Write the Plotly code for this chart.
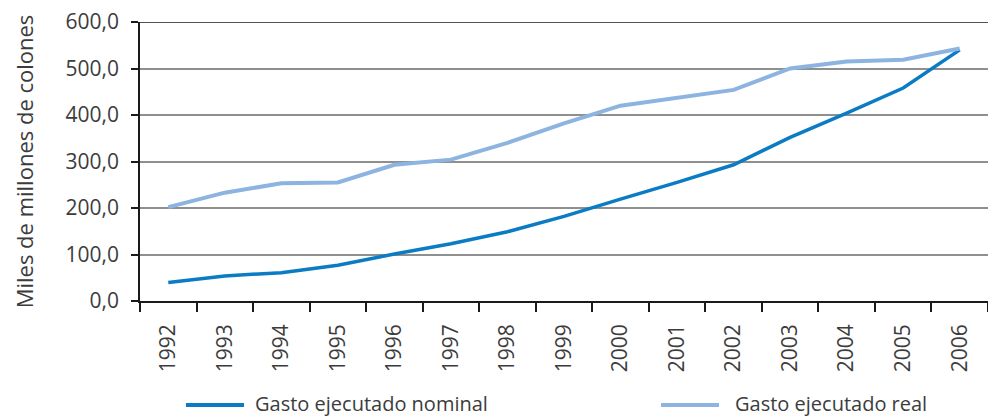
import plotly.graph_objects as go

# Gasto ejecutado, miles de millones de colones
years = ["1992", "1993", "1994", "1995", "1996", "1997", "1998", "1999",
         "2000", "2001", "2002", "2003", "2004", "2005", "2006"]
gasto_nominal = [40, 54, 61, 77, 101, 123, 149, 182, 219, 255, 293, 352, 404, 458, 540]
gasto_real = [202, 233, 253, 255, 293, 304, 340, 382, 420, 437, 454, 500, 515, 519, 543]

series_names = ["Gasto ejecutado nominal", "Gasto ejecutado real"]
series_colors = ["#0b7cc3", "#8db4e0"]
y_ticks = [0, 100, 200, 300, 400, 500, 600]

FONT = "Open Sans"
TEXT = "#3c3c3c"

fig = go.Figure()
fig.add_trace(go.Scatter(x=years, y=gasto_nominal, mode="lines", name=series_names[0],
                         line=dict(color=series_colors[0], width=3.5), showlegend=False))
fig.add_trace(go.Scatter(x=years, y=gasto_real, mode="lines", name=series_names[1],
                         line=dict(color=series_colors[1], width=4), showlegend=False))

# top frame line of the plot area
fig.add_shape(type="line", xref="paper", yref="y", x0=0, x1=1, y0=600, y1=600,
              line=dict(color="#1a1a1a", width=1.5), layer="above")

# legend keys drawn below the axis
legend_pos = [(186, 254), (661, 734)]
plot_left, plot_w, plot_h = 140, 848, 279
for (lx, tx), name, col in zip(legend_pos, series_names, series_colors):
    fig.add_shape(type="line", xref="paper", yref="paper",
                  x0=(lx - plot_left) / plot_w, x1=(lx + 58 - plot_left) / plot_w,
                  y0=-104 / plot_h, y1=-104 / plot_h, line=dict(color=col, width=4))
    fig.add_annotation(xref="paper", yref="paper", x=(tx - plot_left) / plot_w,
                       y=-102 / plot_h, text=name, showarrow=False,
                       xanchor="left", yanchor="middle", borderpad=0,
                       font=dict(family=FONT, size=20, color=TEXT))

fig.update_layout(
    width=988, height=417,
    margin=dict(l=140, r=0, t=22, b=116),
    paper_bgcolor="white", plot_bgcolor="white",
    separators=",.",
    font=dict(family=FONT, color=TEXT),
    xaxis=dict(type="category", range=[-0.5, 14.5], tickson="boundaries",
               ticks="outside", ticklen=9, tickwidth=1.5, tickcolor="#1a1a1a",
               showline=True, linecolor="#1a1a1a", linewidth=1.5,
               showgrid=False, tickangle=-90, ticklabelstandoff=13,
               tickfont=dict(family=FONT, size=21, color=TEXT)),
    yaxis=dict(range=[0, 600], tickvals=y_ticks, tickformat=".1f",
               ticks="outside", ticklen=7, tickwidth=1.5, tickcolor="#1a1a1a",
               showline=True, linecolor="#1a1a1a", linewidth=1.5,
               showgrid=True, gridcolor="#8f8f8f", gridwidth=1.5, zeroline=False,
               ticklabelstandoff=8,
               tickfont=dict(family=FONT, size=21, color=TEXT),
               title=dict(text="Miles de millones de colones", standoff=26,
                          font=dict(family=FONT, size=22, color=TEXT))),
)

fig.write_html("out.html")
